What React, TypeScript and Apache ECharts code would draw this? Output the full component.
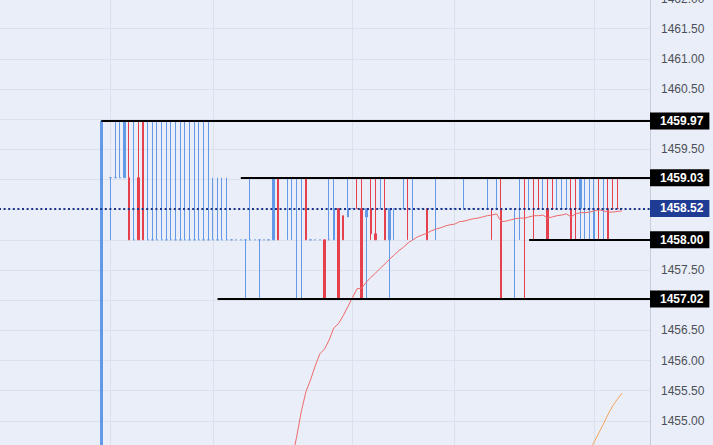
import React, { useEffect, useRef } from 'react';
import * as echarts from 'echarts';

// price levels seen in the chart
const A = 1459.97;
const B = 1459.03;
const C = 1458.52;
const D = 1458.0;
const E = 1457.02;

type Candle = [number, number, number, number, 'u' | 'd']; // open, close, low, high, direction

const candles: Candle[] = [
  [1454.2, A, 1454.2, A, 'u'],
  [A, A, A, A, 'u'],
  [B, B, D, B, 'u'],
  [B, B, B, A, 'u'],
  [B, B, B, A, 'u'],
  [B, A, B, A, 'u'],
  [B, D, D, A, 'd'],
  [D, D, D, A, 'u'],
  [B, D, D, A, 'd'],
  [A, D, D, A, 'd'],
  [D, D, D, A, 'u'], [D, D, D, A, 'u'], [D, D, D, A, 'u'], [D, D, D, A, 'u'],
  [D, D, D, A, 'u'], [D, D, D, A, 'u'], [D, D, D, A, 'u'], [D, D, D, A, 'u'],
  [D, D, D, A, 'u'], [D, D, D, A, 'u'], [D, D, D, A, 'u'], [D, D, D, A, 'u'],
  [D, D, D, A, 'u'], [D, D, D, A, 'u'],
  [D, D, D, B, 'u'], [D, D, D, B, 'u'], [D, D, D, B, 'u'], [D, D, D, B, 'u'],
  [D, D, D, D, 'u'], [D, D, D, D, 'u'], [D, D, D, D, 'u'],
  [D, D, E, D, 'u'],
  [D, D, D, B, 'u'],
  [D, D, D, D, 'u'],
  [D, D, E, D, 'u'],
  [D, D, D, D, 'u'], [D, D, D, D, 'u'],
  [D, B, D, B, 'u'],
  [B, D, D, B, 'd'],
  [B, B, B, B, 'u'],
  [B, B, D, B, 'u'], [B, B, D, B, 'u'],
  [B, B, E, B, 'u'], [B, B, E, B, 'u'],
  [B, D, D, B, 'd'],
  [D, D, D, D, 'u'], [D, D, D, D, 'u'], [D, D, D, D, 'u'],
  [D, E, E, D, 'd'],
  [D, D, D, B, 'u'],
  [D, C, D, B, 'u'],
  [C, E, E, C, 'd'],
  [1458.4, D, D, 1458.4, 'd'],
  [1458.38, C, 1458.38, B, 'u'],
  [C, C, C, C, 'u'],
  [C, C, C, B, 'd'],
  [C, E, E, B, 'd'],
  [1458.38, C, E, C, 'u'],
  [C, 1458.1, D, B, 'd'],
  [1458.1, D, D, B, 'd'],
  [C, C, C, B, 'u'],
  [C, D, D, B, 'd'],
  [D, C, E, C, 'u'],
  [C, C, D, C, 'u'],
  [C, C, C, C, 'u'],
  [C, C, C, B, 'u'],
  [C, C, D, B, 'd'],
  [C, C, D, B, 'u'],
  [C, C, C, C, 'u'], [C, C, C, C, 'u'],
  [C, D, D, C, 'd'],
  [C, C, C, C, 'u'],
  [C, C, D, B, 'u'],
  [C, C, C, C, 'u'], [C, C, C, C, 'u'], [C, C, C, C, 'u'], [C, C, C, C, 'u'], [C, C, C, C, 'u'],
  [C, C, C, B, 'u'],
  [C, C, C, C, 'u'], [C, C, C, C, 'u'], [C, C, C, C, 'u'], [C, C, C, C, 'u'],
  [C, C, C, B, 'u'],
  [C, C, D, C, 'd'],
  [C, C, C, B, 'u'],
  [C, E, E, B, 'd'],
  [C, C, C, C, 'u'], [C, C, C, C, 'u'],
  [C, C, E, C, 'u'],
  [C, C, D, B, 'u'],
  [C, C, E, B, 'd'],
  [C, C, C, B, 'u'],
  [C, C, D, B, 'd'],
  [C, C, C, B, 'd'],
  [C, C, C, B, 'u'],
  [C, D, D, B, 'd'],
  [C, C, C, B, 'd'],
  [C, C, C, B, 'u'], [C, C, C, B, 'u'], [C, C, C, B, 'u'],
  [C, D, D, B, 'd'],
  [C, C, D, B, 'd'],
  [C, B, D, B, 'u'],
  [C, C, D, B, 'u'], [C, C, D, B, 'u'],
  [D, C, D, B, 'u'],
  [C, C, D, B, 'd'],
  [C, C, D, B, 'u'],
  [C, D, D, B, 'd'],
  [C, C, C, B, 'd'], [C, C, C, B, 'd'],
  [C, C, C, C, 'u'],
];

// empty slots before the first candle and total slots on the axis
const LEAD = 22;
const SLOTS = 141;
const categories = Array.from({ length: SLOTS }, (_, i) => String(i));

// red moving average (starts at candle 41)
const MA_START = 41;
const maValues = [
  1454.37, 1454.73, 1455.15, 1455.48, 1455.68, 1455.91, 1456.11, 1456.19, 1456.34, 1456.54,
  1456.61, 1456.74, 1456.89, 1457.04, 1457.19, 1457.2, 1457.3, 1457.38, 1457.45, 1457.53,
  1457.6, 1457.68, 1457.75, 1457.82, 1457.88, 1457.95, 1458.0, 1458.05, 1458.08, 1458.11,
  1458.15, 1458.18, 1458.2, 1458.23, 1458.25, 1458.26, 1458.3, 1458.31, 1458.33, 1458.35,
  1458.36, 1458.38, 1458.4, 1458.41, 1458.43, 1458.3, 1458.31, 1458.33, 1458.35, 1458.36,
  1458.36, 1458.38, 1458.4, 1458.4, 1458.41, 1458.36, 1458.38, 1458.4, 1458.41, 1458.43,
  1458.38, 1458.43, 1458.45, 1458.45, 1458.46, 1458.48, 1458.5, 1458.48, 1458.46, 1458.46,
  1458.47, 1458.48,
];

// orange line (starts at candle 105)
const OR_START = 105;
const orangeValues = [1454.52, 1454.65, 1454.8, 1454.95, 1455.11, 1455.25, 1455.36, 1455.46];

// horizontal levels: value and candle where the ray starts
const levelValues = [A, B, D, E];
const levelStarts = [0, 30, 92, 25];
const lastPrice = 1458.52;

const hiddenTicks = [1460, 1459, 1458.5, 1458, 1457, 1454.5];
const vGridSlots = [24, 46, 76, 98, 128];

const BLUE = '#6399e6';
const RED = '#e6404e';
const FONT = 'Liberation Sans';

export default function App() {
  const ref = useRef<HTMLDivElement>(null);

  useEffect(() => {
    document.body.style.margin = '0';
    const chart = echarts.init(ref.current!, undefined, { renderer: 'svg' });

    const candleData: any[] = [
      ...Array(LEAD).fill('-'),
      ...candles.map(([o, c, l, h, d]) => {
        const col = d === 'u' ? BLUE : RED;
        return {
          value: [o, c, l, h],
          itemStyle: { color: col, color0: col, borderColor: col, borderColor0: col, borderColorDoji: col },
        };
      }),
    ];
    while (candleData.length < SLOTS) candleData.push('-');

    const maData: any[] = Array(SLOTS).fill('-');
    maValues.forEach((v, k) => (maData[LEAD + MA_START + k] = v));
    const orData: any[] = Array(SLOTS).fill('-');
    orangeValues.forEach((v, k) => (orData[LEAD + OR_START + k] = v));

    const boxLabel = (bg: string, text: string) => ({
      show: true,
      position: 'end',
      distance: 0,
      formatter: text,
      color: '#ffffff',
      backgroundColor: bg,
      fontWeight: 'bold',
      fontSize: 12,
      fontFamily: FONT,
      lineHeight: 13,
      padding: [2, 6, 2, 10],
    });

    const markData: any[] = levelValues.map((v, k) => [
      {
        coord: [LEAD + levelStarts[k], v],
        lineStyle: { color: '#000000', width: 2, type: 'solid' },
        label: boxLabel('#000000', v.toFixed(2)),
      },
      { coord: [SLOTS - 1, v] },
    ]);
    markData.push([
      {
        coord: [0, lastPrice],
        lineStyle: { color: '#1c3488', width: 2, type: [2, 2.6] },
        label: boxLabel('#1f3c95', lastPrice.toFixed(2)),
      },
      { coord: [SLOTS - 1, lastPrice] },
    ]);

    chart.setOption({
      animation: false,
      backgroundColor: '#eaeef8',
      grid: { left: -1, right: 63, top: -1.5, bottom: -6, containLabel: false, outerBoundsMode: 'none' },
      xAxis: {
        type: 'category',
        data: categories,
        boundaryGap: false,
        axisLine: { show: false },
        axisTick: { show: false },
        axisLabel: { show: false },
        splitLine: {
          show: true,
          interval: (i: number) => vGridSlots.includes(i),
          lineStyle: { color: '#dbe1ec', width: 1 },
        },
      },
      yAxis: {
        type: 'value',
        position: 'right',
        min: 1454.5,
        max: 1462,
        interval: 0.5,
        axisLine: { show: true, lineStyle: { color: '#c7cedb' } },
        axisTick: { show: false },
        splitLine: { show: true, lineStyle: { color: '#dbe1ec', width: 1 } },
        axisLabel: {
          margin: 11,
          color: '#4c5059',
          fontSize: 12,
          fontFamily: FONT,
          formatter: (v: number) => (hiddenTicks.some((h) => Math.abs(h - v) < 1e-6) ? '' : v.toFixed(2)),
        },
      },
      series: [
        {
          type: 'candlestick',
          data: candleData,
          barWidth: 2,
          itemStyle: { borderWidth: 1 },
          z: 2,
        },
        {
          type: 'line',
          data: maData,
          showSymbol: false,
          symbol: 'none',
          clip: false,
          lineStyle: { color: '#ef6a6a', width: 1 },
          z: 3,
          markLine: {
            silent: true,
            symbol: ['none', 'none'],
            animation: false,
            data: markData,
          },
        },
        {
          type: 'line',
          data: orData,
          showSymbol: false,
          symbol: 'none',
          lineStyle: { color: '#f4a45c', width: 1 },
          z: 3,
        },
      ],
    });

    return () => chart.dispose();
  }, []);

  return <div ref={ref} style={{ position: 'fixed', left: 0, top: 0, width: 713, height: 445 }} />;
}
